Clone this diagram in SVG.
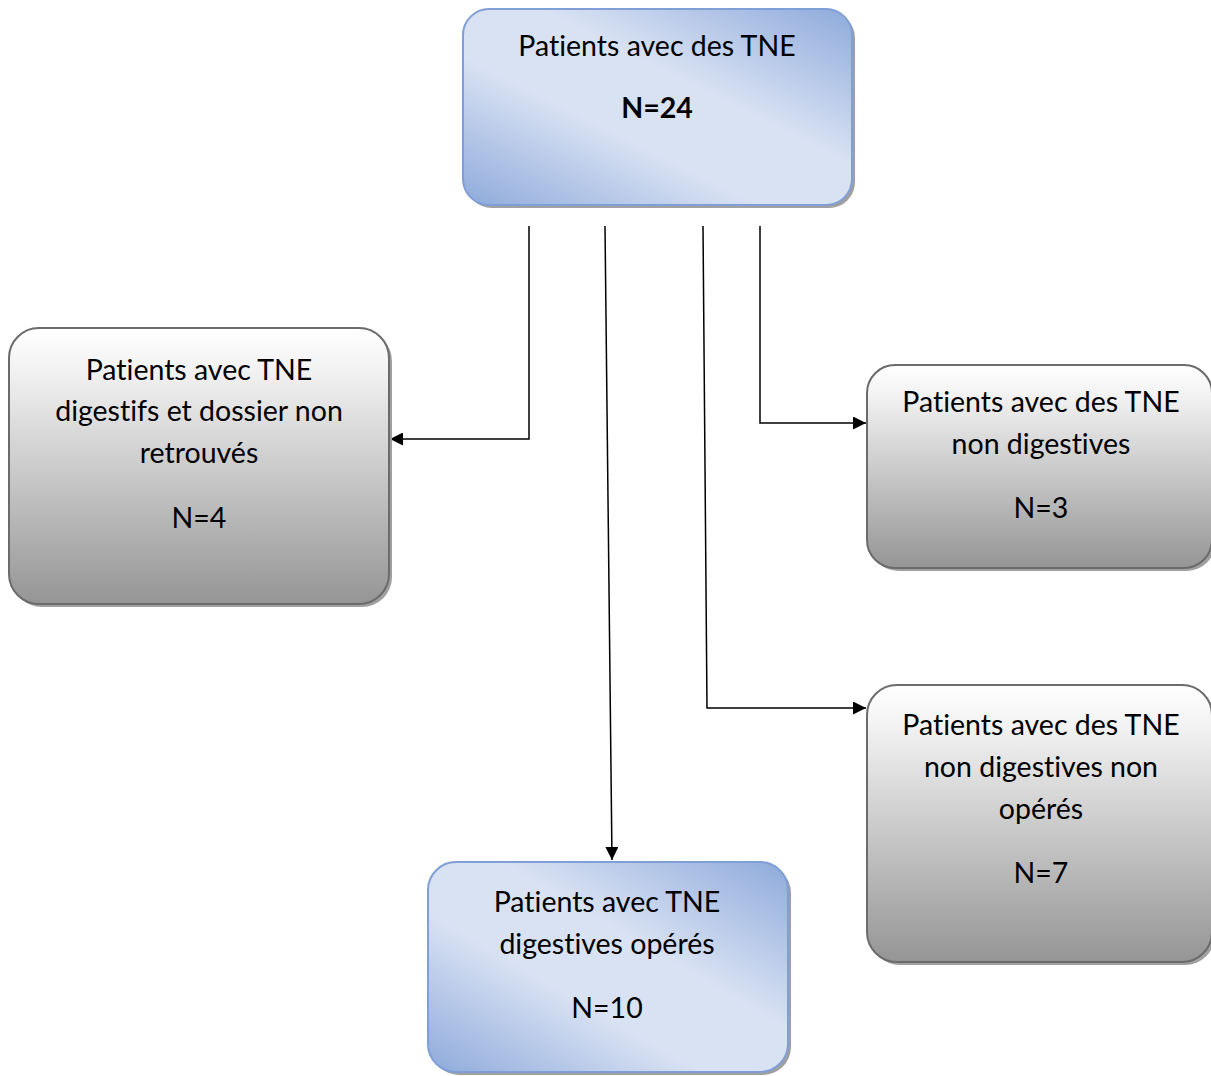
<svg xmlns="http://www.w3.org/2000/svg" width="1211" height="1076" viewBox="0 0 1211 1076">
<style>
  .t { font-family: Lato, "Liberation Sans", sans-serif; font-size: 28.5px; fill: #000; text-anchor: middle; font-variant-ligatures: none; }
  .b { font-weight: bold; }
  .blue { fill: url(#gBlue); stroke: #7f9fd6; stroke-width: 2; }
  .grey { fill: url(#gGrey); stroke: #6b6b6b; stroke-width: 2; }
  .sh { fill: #a0a0a0; }
  .c { fill: none; stroke: #000; stroke-width: 1.5; marker-end: url(#arr); }
</style>
<defs>
  <linearGradient id="gBlue" x1="0" y1="1" x2="1" y2="0">
    <stop offset="0" stop-color="#8eaadb"/>
    <stop offset="0.38" stop-color="#d9e2f3"/>
    <stop offset="0.6" stop-color="#d9e2f3"/>
    <stop offset="1" stop-color="#8eaadb"/>
  </linearGradient>
  <linearGradient id="gGrey" x1="0" y1="0" x2="0" y2="1">
    <stop offset="0" stop-color="#ffffff"/>
    <stop offset="0.15" stop-color="#f2f2f2"/>
    <stop offset="1" stop-color="#959595"/>
  </linearGradient>
  <marker id="arr" viewBox="0 0 10 10" refX="10" refY="5" markerWidth="14" markerHeight="13" markerUnits="userSpaceOnUse" orient="auto">
    <path d="M0,0 L10,5 L0,10 z" fill="#000"/>
  </marker>
</defs>

<g id="connectors">
  <path class="c" d="M529,226 L529,439 L390,439"/>
  <path class="c" d="M605,226 L612,860"/>
  <path class="c" d="M703,226 L707,708 L866,708"/>
  <path class="c" d="M760,226 L760,423 L866,423"/>
</g>

<g id="n-top">
  <rect class="sh" x="466" y="12" width="389" height="196" rx="26"/>
  <rect class="blue" x="463" y="9" width="389" height="196" rx="26"/>
  <text class="t" x="657" y="56">Patients avec des TNE</text>
  <text class="t b" x="657" y="118">N=24</text>
</g>

<g id="n-left">
  <rect class="sh" x="12" y="331" width="380" height="276" rx="30"/>
  <rect class="grey" x="9" y="328" width="380" height="276" rx="30"/>
  <text class="t" x="199" y="380">Patients avec TNE</text>
  <text class="t" x="199" y="421">digestifs et dossier non</text>
  <text class="t" x="199" y="463">retrouvés</text>
  <text class="t" x="199" y="528">N=4</text>
</g>

<g id="n-right1">
  <rect class="sh" x="870" y="368" width="345" height="203" rx="28"/>
  <rect class="grey" x="867" y="365" width="345" height="203" rx="28"/>
  <text class="t" x="1041" y="412">Patients avec des TNE</text>
  <text class="t" x="1041" y="454">non digestives</text>
  <text class="t" x="1041" y="518">N=3</text>
</g>

<g id="n-right2">
  <rect class="sh" x="870" y="688" width="345" height="277" rx="30"/>
  <rect class="grey" x="867" y="685" width="345" height="277" rx="30"/>
  <text class="t" x="1041" y="735">Patients avec des TNE</text>
  <text class="t" x="1041" y="777">non digestives non</text>
  <text class="t" x="1041" y="819">opérés</text>
  <text class="t" x="1041" y="883">N=7</text>
</g>

<g id="n-bottom">
  <rect class="sh" x="431" y="865" width="360" height="210" rx="28"/>
  <rect class="blue" x="428" y="862" width="360" height="210" rx="28"/>
  <text class="t" x="607" y="912">Patients avec TNE</text>
  <text class="t" x="607" y="954">digestives opérés</text>
  <text class="t" x="607" y="1018">N=10</text>
</g>
</svg>
